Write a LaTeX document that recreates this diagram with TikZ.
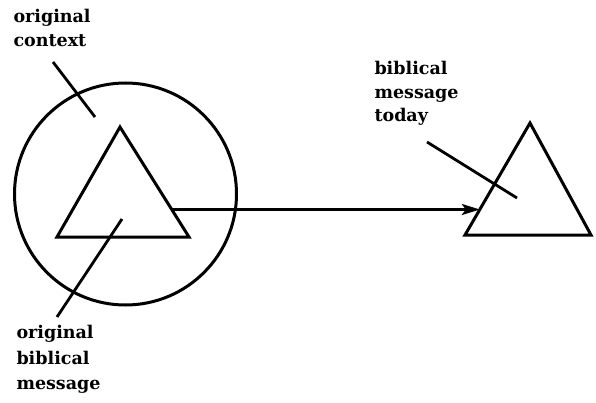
\documentclass[tikz,border=0pt]{standalone}
\usepackage{fontspec}
\setmainfont{DejaVu Serif}
\usepackage{tikz}
\usetikzlibrary{arrows.meta, calc}

\begin{document}
\begin{tikzpicture}[x=1pt, y=-1pt, line width=3pt, line join=miter,
  label text/.style={inner sep=0pt, align=left, font=\fontsize{17.5}{23.5}\selectfont\bfseries},
  leader/.style={line width=2.8pt},
  ]
  \useasboundingbox (0,0) rectangle (596,403);

  % Original context with the original message
  \node[draw, circle, minimum size=222pt, inner sep=0pt] (context) at (125.5,194) {};
  \draw (120,127) coordinate (ltop) -- (189,237) coordinate (lright)
    -- (57,237) coordinate (lleft) -- cycle;

  % Message today
  \draw (530,123) coordinate (rtop) -- (591,235) coordinate (rright)
    -- (465,235) coordinate (rleft) -- cycle;

  % Labels
  \node[label text, anchor=north west] (ctxlbl) at (12,8) {original\\context};
  \node[label text, anchor=north west, font=\fontsize{17.5}{25.5}\selectfont\bfseries]
    (origlbl) at (15,324) {original\\biblical\\message};
  \node[label text, anchor=north west] (todaylbl) at (373,60) {biblical\\message\\today};

  % Leader lines
  \coordinate (ctxa) at (53,62);
  \coordinate (ctxb) at (95,117);
  \coordinate (origa) at (122,219);
  \coordinate (origb) at (57,317);
  \coordinate (todaya) at (427,142);
  \coordinate (todayb) at (517,198);
  \draw[leader] (ctxa) -- (ctxb);
  \draw[leader] (origa) -- (origb);
  \draw[leader] (todaya) -- (todayb);

  % Arrow from then to now
  \coordinate (arra) at ($(ltop)!0.75!(lright)$);
  \coordinate (arrx) at ([xshift=300pt]arra);
  \draw[-{Stealth[length=18pt, width=11pt, inset=4pt]}, line width=2.6pt]
    (arra) -- (intersection of rtop--rleft and arra--arrx);
\end{tikzpicture}
\end{document}
